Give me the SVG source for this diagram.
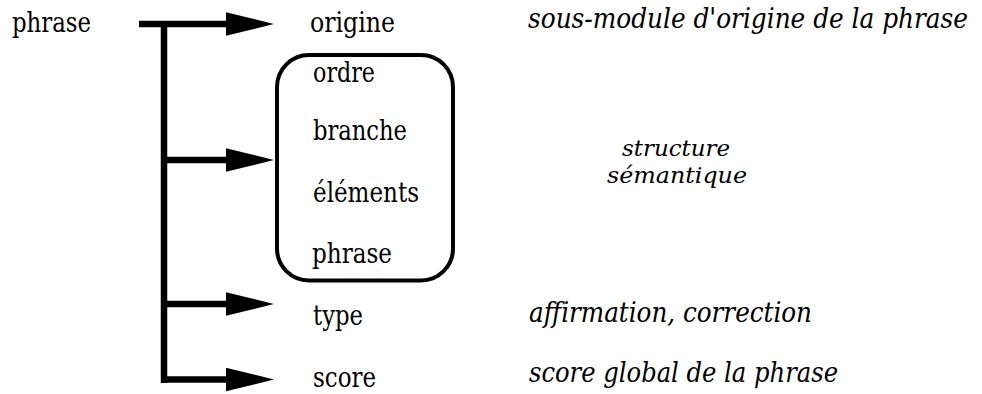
<svg xmlns="http://www.w3.org/2000/svg" width="982" height="394" viewBox="0 0 982 394">
  <style>
    text { font-family: "DejaVu Serif", "Liberation Serif", serif; font-stretch: condensed; fill: #000; }
    .lbl { font-size: 27px; }
    .note { font-style: italic; font-size: 28px; }
    .small { font-size: 23px; }
    .wire { stroke: #000; stroke-width: 6.5; fill: none; stroke-linecap: butt; }
    .frame { stroke: #000; stroke-width: 4; fill: none; }
  </style>
  <defs>
    <marker id="head" markerUnits="userSpaceOnUse" markerWidth="48" markerHeight="24"
            viewBox="0 0 47 23" refX="2" refY="11.5" orient="auto">
      <path d="M0,0 L47,11.5 L0,23 Z" fill="#000"/>
    </marker>
  </defs>

  <rect width="982" height="394" fill="#fff"/>

  <!-- tree connectors -->
  <g id="connectors">
    <line class="wire" x1="164" y1="21" x2="164" y2="383"/>
    <line class="wire" x1="139" y1="24" x2="228" y2="24" marker-end="url(#head)"/>
    <line class="wire" x1="164" y1="160" x2="228" y2="160" marker-end="url(#head)"/>
    <line class="wire" x1="164" y1="304" x2="228" y2="304" marker-end="url(#head)"/>
    <line class="wire" x1="161" y1="379.5" x2="228" y2="379.5" marker-end="url(#head)"/>
  </g>

  <g id="root">
    <text class="lbl" x="12" y="32" textLength="79" lengthAdjust="spacingAndGlyphs">phrase</text>
  </g>

  <g id="origine">
    <text class="lbl" x="310" y="32" textLength="85" lengthAdjust="spacingAndGlyphs">origine</text>
    <text class="note" x="528" y="28" textLength="440" lengthAdjust="spacingAndGlyphs">sous-module d'origine de la phrase</text>
  </g>

  <g id="structure">
    <rect class="frame" x="277" y="55" width="176" height="225.5" rx="32" ry="32"/>
    <text class="lbl" x="313" y="82" textLength="62" lengthAdjust="spacingAndGlyphs">ordre</text>
    <text class="lbl" x="313" y="140" textLength="94" lengthAdjust="spacingAndGlyphs">branche</text>
    <text class="lbl" x="313" y="202" textLength="106" lengthAdjust="spacingAndGlyphs">éléments</text>
    <text class="lbl" x="312" y="263" textLength="80" lengthAdjust="spacingAndGlyphs">phrase</text>
    <text class="note small" x="622" y="156" textLength="108" lengthAdjust="spacingAndGlyphs">structure</text>
    <text class="note small" x="607" y="183" textLength="140" lengthAdjust="spacingAndGlyphs">sémantique</text>
  </g>

  <g id="type">
    <text class="lbl" x="313" y="325" textLength="50" lengthAdjust="spacingAndGlyphs">type</text>
    <text class="note" x="529" y="322" textLength="283" lengthAdjust="spacingAndGlyphs">affirmation, correction</text>
  </g>

  <g id="score">
    <text class="lbl" x="313" y="387" textLength="63" lengthAdjust="spacingAndGlyphs">score</text>
    <text class="note" x="529" y="382" textLength="309" lengthAdjust="spacingAndGlyphs">score global de la phrase</text>
  </g>
</svg>
